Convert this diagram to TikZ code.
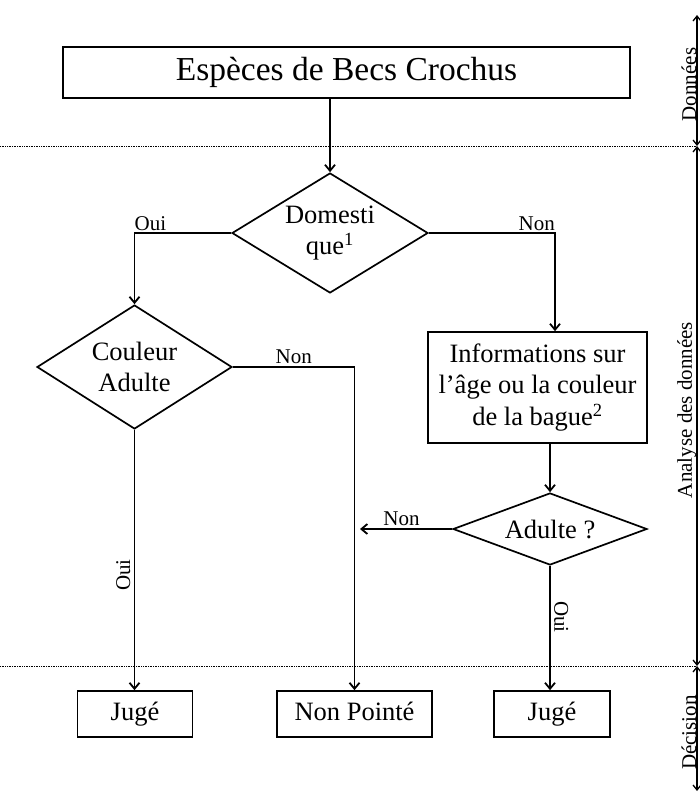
\documentclass[tikz,border=0pt]{standalone}
\usepackage{fontspec}
\setmainfont{Liberation Serif}
\usetikzlibrary{shapes.geometric,arrows.meta,calc}
\begin{document}
\begin{tikzpicture}[x=1pt,y=-1pt,
  every node/.style={inner sep=0pt},
  box/.style={draw, line width=1.7pt, font=\fontsize{26.5}{31.5}\selectfont, align=center},
  endbox/.style={box, minimum height=46pt, text height=18pt, text depth=6pt},
  dia/.style={diamond, draw, line width=1.7pt, font=\fontsize{26.5}{31.5}\selectfont, align=center},
  arr/.style={line width=1.8pt, -{Straight Barb[length=6pt,width=10pt]}},
  lab/.style={font=\fontsize{21}{25}\selectfont},
  sep/.style={densely dotted, line width=0.7pt},
  dim/.style={line width=1.3pt, {Straight Barb[length=5pt,width=8pt]}-{Straight Barb[length=5pt,width=8pt]}},
  side/.style={font=\fontsize{21}{25}\selectfont, rotate=90, anchor=south}]
\useasboundingbox (0,0) rectangle (700,792);
% nodes
\node[box, minimum width=567pt, minimum height=51pt, font=\fontsize{33.5}{40}\selectfont] (top) at (346.5,72.5) {Espèces de Becs Crochus};
\node[dia, aspect=1.63, minimum width=196pt, minimum height=120pt] (dom) at (330,233) {Domesti\\que\textsuperscript{1}};
\node[dia, aspect=1.57, minimum width=195pt, minimum height=124pt] (coul) at (134.5,367) {Couleur\\Adulte};
\node[box, minimum width=219pt, minimum height=111pt] (info) at (537.5,387.5) {Informations sur\\l'âge ou la couleur\\de la bague\textsuperscript{2}};
\node[dia, aspect=2.7, minimum width=194pt, minimum height=72pt] (adu) at (550,529) {Adulte ?};
\node[endbox, minimum width=115pt] (j1) at (135,714) {Jugé};
\node[endbox, minimum width=155pt] (np) at (354.5,714) {Non Pointé};
\node[endbox, minimum width=116pt] (j2) at (552,714) {Jugé};
% coordinates
\coordinate (c1) at (555,233);
\coordinate (c2) at (550,0);
\coordinate (c3) at (360,529);
% connectors
\draw[arr] (dom.north |- top.south) -- (dom.north);
\draw[arr] (dom.west) -| (coul.north);
\node[lab, anchor=south west] at ($(dom.west -| coul.north)+(0,-2)$) {Oui};
\draw[arr] (dom.east) -- (c1) -- (c1 |- info.north);
\node[lab, anchor=south east] at ($(c1)+(0,-2)$) {Non};
\draw[arr] (coul.east) -| (np.north) node[lab, pos=0.25, above=2pt] {Non};
\draw[arr] (coul.south) -- (coul.south |- j1.north);
\node[side] at ($(coul.south |- 0,575)+(-4,0)$) {Oui};
\draw[arr] (c2 |- info.south) -- (adu.north);
\draw[arr] (adu.west) -- (c3) node[lab, pos=0.55, above=2pt] {Non};
\draw[arr] (adu.south) -- (adu.south |- j2.north);
\node[lab, rotate=-90, anchor=south] at ($(adu.south |- 0,617)+(4,0)$) {Oui};
% separators
\coordinate (s1) at (0,146);
\coordinate (s2) at (0,666);
\coordinate (d0) at (697,15);
\coordinate (d1) at (697,146);
\coordinate (d2) at (697,666);
\coordinate (d3) at (697,791);
\draw[sep] (s1) -- (d1);
\draw[sep] (s2) -- (d2);
\draw[dim] (d0) -- (d1) node[side, midway, xshift=-4pt] {Données};
\draw[dim] (d1) -- (d2) node[side, midway, xshift=-4pt] {Analyse des données};
\draw[dim] (d2) -- (d3) node[side, midway, xshift=-4pt] {Décision};
\end{tikzpicture}
\end{document}
